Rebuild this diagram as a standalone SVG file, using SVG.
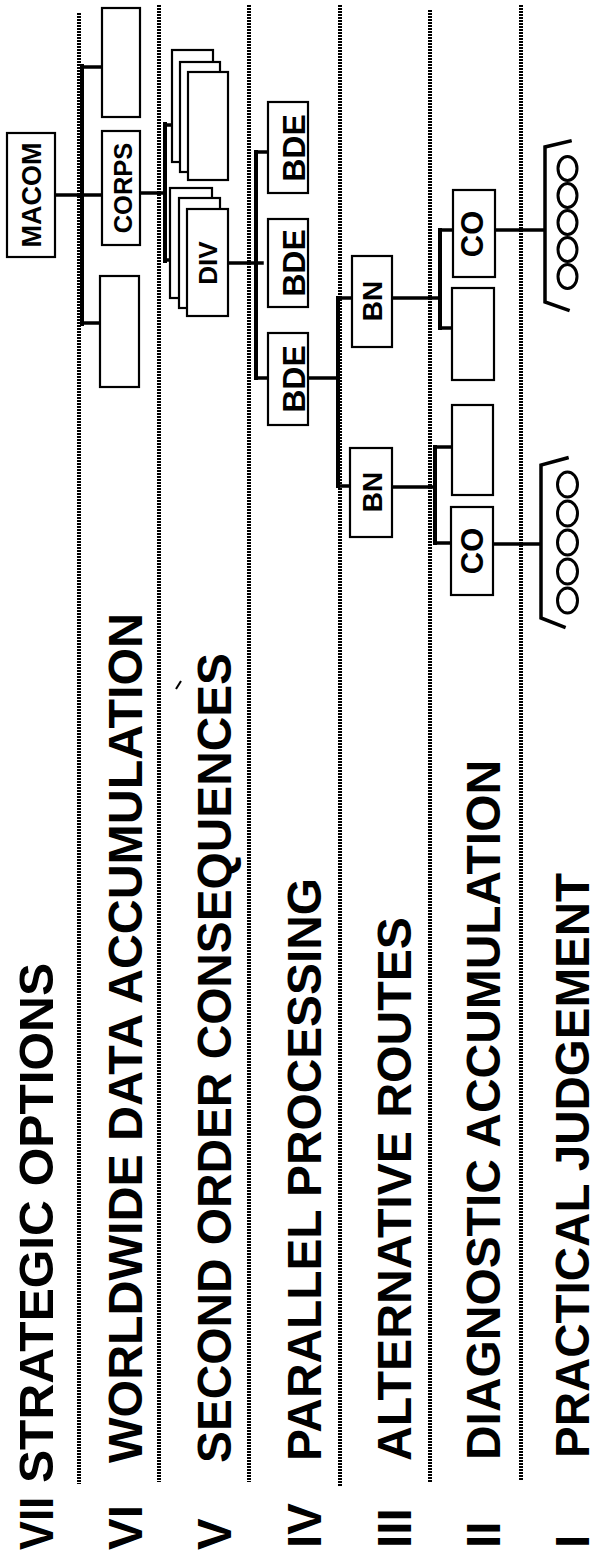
<svg xmlns="http://www.w3.org/2000/svg" width="593" height="1557" viewBox="0 0 593 1557">
<style>
.bg{fill:#fff}
.dot{stroke:#000;stroke-width:4;stroke-dasharray:2 1;fill:none}
.box{fill:#fff;stroke:#000;stroke-width:2.2}
.ln{stroke:#000;stroke-width:3.5;fill:none;stroke-linecap:square}
.bus{stroke:#000;stroke-width:4;fill:none;stroke-linecap:square}
.circ{fill:none;stroke:#000;stroke-width:3}
.lbl{font-family:"Liberation Sans",Arial,sans-serif;font-weight:bold;font-size:47.5px;fill:#000}
.nt{font-family:"Liberation Sans",Arial,sans-serif;font-weight:bold;fill:#000;text-anchor:middle}
</style>
<rect class="bg" x="0" y="0" width="593" height="1557"/>
<g id="level-separators">
<line class="dot" x1="79" y1="13" x2="79" y2="1484"/>
<line class="dot" x1="159" y1="5" x2="159" y2="1482"/>
<line class="dot" x1="249" y1="5" x2="249" y2="1482"/>
<line class="dot" x1="340" y1="5" x2="340" y2="1486"/>
<line class="dot" x1="430" y1="10" x2="430" y2="1482"/>
<line class="dot" x1="521" y1="5" x2="521" y2="1480"/>
</g>
<g id="level-labels">
<text class="lbl" transform="translate(53,1550) rotate(-90)" textLength="53" lengthAdjust="spacingAndGlyphs">VII</text>
<text class="lbl" transform="translate(53,1483) rotate(-90)" textLength="520" lengthAdjust="spacingAndGlyphs">STRATEGIC OPTIONS</text>
<text class="lbl" transform="translate(142,1550) rotate(-90)">VI</text>
<text class="lbl" transform="translate(142,1463) rotate(-90)" textLength="850" lengthAdjust="spacingAndGlyphs">WORLDWIDE DATA ACCUMULATION</text>
<text class="lbl" transform="translate(231,1550) rotate(-90)">V</text>
<text class="lbl" transform="translate(231,1463) rotate(-90)" textLength="810" lengthAdjust="spacingAndGlyphs">SECOND ORDER CONSEQUENCES</text>
<text class="lbl" transform="translate(321,1548) rotate(-90)">IV</text>
<text class="lbl" transform="translate(321,1461) rotate(-90)" textLength="583" lengthAdjust="spacingAndGlyphs">PARALLEL PROCESSING</text>
<text class="lbl" transform="translate(411,1548) rotate(-90)">III</text>
<text class="lbl" transform="translate(411,1461) rotate(-90)" textLength="544" lengthAdjust="spacingAndGlyphs">ALTERNATIVE ROUTES</text>
<text class="lbl" transform="translate(500,1548) rotate(-90)">II</text>
<text class="lbl" transform="translate(500,1460) rotate(-90)" textLength="700" lengthAdjust="spacingAndGlyphs">DIAGNOSTIC ACCUMULATION</text>
<text class="lbl" transform="translate(589,1548) rotate(-90)">I</text>
<text class="lbl" transform="translate(589,1458) rotate(-90)" textLength="585" lengthAdjust="spacingAndGlyphs">PRACTICAL JUDGEMENT</text>
<line x1="176" y1="689" x2="181" y2="681" stroke="#000" stroke-width="2"/>
</g>
<g id="connectors">
<path class="ln" d="M55,195 H102"/>
<path class="bus" d="M82,66 V324"/>
<path class="ln" d="M82,67 H102"/>
<path class="ln" d="M82,323 H100"/>
<path class="ln" d="M140,193 H165"/>
<path class="bus" d="M165,124 V261"/>
<path class="ln" d="M165,125 H188"/>
<path class="ln" d="M165,260 H187"/>
<path class="ln" d="M228,263 H262"/>
<path class="bus" d="M256,152 V378"/>
<path class="ln" d="M256,152 H268"/>
<path class="ln" d="M256,378 H268"/>
<path class="ln" d="M308,378 H338"/>
<path class="bus" d="M338,298 V486"/>
<path class="ln" d="M338,298 H352"/>
<path class="ln" d="M338,486 H350"/>
<path class="ln" d="M392,298 H440"/>
<path class="bus" d="M440,230 V328"/>
<path class="ln" d="M440,230 H453"/>
<path class="ln" d="M440,328 H452"/>
<path class="ln" d="M392,487 H435"/>
<path class="bus" d="M435,447 V543"/>
<path class="ln" d="M435,447 H452"/>
<path class="ln" d="M435,543 H451"/>
<path class="ln" d="M495,230 H544"/>
<path class="ln" d="M493,544 H540"/>
</g>
<g id="macom">
<rect class="box" x="7" y="133" width="48" height="124"/>
<text class="nt" font-size="27" transform="translate(41,195) rotate(-90)">MACOM</text>
</g>
<g id="vi-unit-top">
<rect class="box" x="102" y="8" width="38" height="109"/>
</g>
<g id="corps">
<rect class="box" x="102" y="131" width="38" height="114"/>
<text class="nt" font-size="25.5" transform="translate(132,188) rotate(-90)">CORPS</text>
</g>
<g id="vi-unit-bottom">
<rect class="box" x="100" y="276" width="39" height="111"/>
</g>
<g id="v-stack-top">
<rect class="box" x="172" y="50" width="41" height="112"/>
<rect class="box" x="180" y="62" width="40" height="110"/>
<rect class="box" x="188" y="72" width="40" height="108"/>
</g>
<g id="div">
<rect class="box" x="170" y="188" width="42" height="110"/>
<rect class="box" x="179" y="198" width="41" height="110"/>
<rect class="box" x="187" y="209" width="41" height="107"/>
<text class="nt" font-size="26" transform="translate(217,263) rotate(-90)">DIV</text>
</g>
<g id="bde-1">
<rect class="box" x="268" y="102" width="40" height="91"/>
<text class="nt" font-size="32" transform="translate(305,148) rotate(-90)">BDE</text>
</g>
<g id="bde-2">
<rect class="box" x="268" y="219" width="40" height="88"/>
<text class="nt" font-size="32" transform="translate(305,263) rotate(-90)">BDE</text>
</g>
<g id="bde-3">
<rect class="box" x="268" y="333" width="40" height="92"/>
<text class="nt" font-size="32" transform="translate(305,379) rotate(-90)">BDE</text>
</g>
<g id="bn-1">
<rect class="box" x="352" y="256" width="40" height="91"/>
<text class="nt" font-size="28" transform="translate(382,301) rotate(-90)">BN</text>
</g>
<g id="bn-2">
<rect class="box" x="350" y="448" width="42" height="89"/>
<text class="nt" font-size="28" transform="translate(382,492) rotate(-90)">BN</text>
</g>
<g id="co-1">
<rect class="box" x="453" y="190" width="42" height="87"/>
<text class="nt" font-size="31" transform="translate(483,234) rotate(-90)">CO</text>
</g>
<g id="ii-unit-1">
<rect class="box" x="452" y="288" width="42" height="92"/>
</g>
<g id="ii-unit-2">
<rect class="box" x="452" y="405" width="41" height="90"/>
</g>
<g id="co-2">
<rect class="box" x="451" y="507" width="42" height="88"/>
<text class="nt" font-size="31" transform="translate(483,551) rotate(-90)">CO</text>
</g>
<g id="platoons-1">
<path class="ln" d="M570,141 L545,147 L545,302 L568,310" stroke-linecap="butt" stroke-linejoin="miter"/>
<ellipse class="circ" cx="567.5" cy="168.5" rx="9.5" ry="12"/>
<ellipse class="circ" cx="567.5" cy="195.5" rx="9.5" ry="12"/>
<ellipse class="circ" cx="567.5" cy="222.5" rx="9.5" ry="12"/>
<ellipse class="circ" cx="567.5" cy="249.5" rx="9.5" ry="12"/>
<ellipse class="circ" cx="567.5" cy="276.5" rx="9.5" ry="12"/>
</g>
<g id="platoons-2">
<path class="ln" d="M567,458 L541,465 L541,618 L564,627" stroke-linecap="butt" stroke-linejoin="miter"/>
<ellipse class="circ" cx="567.5" cy="484.5" rx="10" ry="12.5"/>
<ellipse class="circ" cx="567.5" cy="513.5" rx="10" ry="12.5"/>
<ellipse class="circ" cx="567.5" cy="542.5" rx="10" ry="12.5"/>
<ellipse class="circ" cx="567.5" cy="571.5" rx="10" ry="12.5"/>
<ellipse class="circ" cx="567.5" cy="600.5" rx="10" ry="12.5"/>
</g>
</svg>
